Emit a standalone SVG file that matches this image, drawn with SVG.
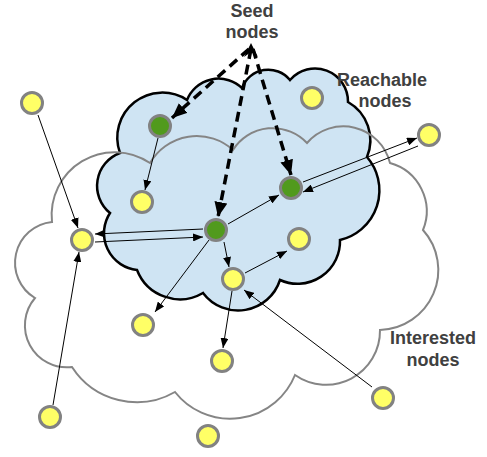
<svg xmlns="http://www.w3.org/2000/svg" width="487" height="457" viewBox="0 0 487 457">
<style>
.y{fill:#ffff66;stroke:#828282;stroke-width:3}
.g{fill:#519a1d;stroke:#828282;stroke-width:3}
.t{stroke:#000;stroke-width:1;fill:none}
.d{stroke:#000;stroke-width:3.5;fill:none;stroke-dasharray:10 6}
.lbl{font-family:"Liberation Sans",Arial,sans-serif;font-weight:bold;font-size:18px;fill:#404040;text-anchor:middle}
</style>
<defs>
<marker id="a" markerUnits="userSpaceOnUse" markerWidth="10" markerHeight="8" viewBox="0 0 10 8" refX="10" refY="4" orient="auto"><path d="M0,0 L10,4 L0,8 Z" fill="#000"/></marker>
<marker id="b" markerUnits="userSpaceOnUse" markerWidth="15" markerHeight="13" viewBox="0 0 15 13" refX="15" refY="6.5" orient="auto"><path d="M0,0 L15,6.5 L0,13 Z" fill="#000"/></marker>
</defs>
<g id="reachable-cloud">
<path d="M120,153 A45,45 0 0 1 187,100 A34,34 0 0 1 242,88 A28,28 0 0 1 290,80 A33,33 0 0 1 348,102 A44,44 0 0 1 367,157 A51,51 0 0 1 340,240 A42.5,42.5 0 0 1 280,280 A44,44 0 0 1 203,293 A46,46 0 0 1 137,270 A37,37 0 0 1 110,213 A35,35 0 0 1 120,153 Z" fill="#cfe4f3" stroke="#000" stroke-width="2.5"/>
</g>
<g id="interested-cloud">
<path d="M52,222 A63,63 0 0 1 150,163 A54,54 0 0 1 233,150 A47,47 0 0 1 307,143 A48,48 0 0 1 390,163 A50,50 0 0 1 423,230 A60,60 0 0 1 380,330 A54,54 0 0 1 295,375 A70,70 0 0 1 175,392 A77,77 0 0 1 72,367 A42,42 0 0 1 35,298 A41,41 0 0 1 52,222 Z" fill="none" stroke="#858585" stroke-width="2"/>
</g>
<g id="connectors">
<line class="d" x1="249" y1="49" x2="172" y2="118" marker-end="url(#b)"/>
<line class="d" x1="251" y1="49" x2="218" y2="217" marker-end="url(#b)"/>
<line class="d" x1="253" y1="49" x2="291" y2="175" marker-end="url(#b)"/>
<path d="M244,57 L251,43 L258,57 L251,52 Z" fill="#000"/>
<line class="t" x1="38" y1="115" x2="78" y2="228" marker-end="url(#a)"/>
<line class="t" x1="53" y1="405" x2="79" y2="252" marker-end="url(#a)"/>
<line class="t" x1="158" y1="138" x2="145" y2="190" marker-end="url(#a)"/>
<line class="t" x1="203" y1="229" x2="95" y2="234" marker-end="url(#a)"/>
<line class="t" x1="95" y1="242" x2="203" y2="237" marker-end="url(#a)"/>
<line class="t" x1="228" y1="224" x2="279" y2="195" marker-end="url(#a)"/>
<line class="t" x1="303" y1="182" x2="417" y2="138" marker-end="url(#a)"/>
<line class="t" x1="418" y1="146" x2="303" y2="192" marker-end="url(#a)"/>
<line class="t" x1="224" y1="242" x2="229" y2="267" marker-end="url(#a)"/>
<line class="t" x1="245" y1="273" x2="287" y2="251" marker-end="url(#a)"/>
<line class="t" x1="372" y1="387" x2="244" y2="290" marker-end="url(#a)"/>
<line class="t" x1="232" y1="291" x2="223" y2="348" marker-end="url(#a)"/>
<line class="t" x1="209" y1="240" x2="155" y2="312" marker-end="url(#a)"/>
</g>
<g id="n1"><circle class="y" cx="32" cy="103" r="10.5"/></g>
<g id="seed1"><circle class="g" cx="160" cy="126" r="10.5"/></g>
<g id="n2"><circle class="y" cx="312" cy="98" r="10.5"/></g>
<g id="n3"><circle class="y" cx="429" cy="135" r="10.5"/></g>
<g id="n4"><circle class="y" cx="142" cy="202" r="10.5"/></g>
<g id="seed2"><circle class="g" cx="291" cy="188" r="10.5"/></g>
<g id="n5"><circle class="y" cx="82" cy="240" r="10.5"/></g>
<g id="seed3"><circle class="g" cx="216" cy="230" r="10.5"/></g>
<g id="n6"><circle class="y" cx="299" cy="239" r="10.5"/></g>
<g id="n7"><circle class="y" cx="233" cy="279" r="10.5"/></g>
<g id="n8"><circle class="y" cx="143" cy="325" r="10.5"/></g>
<g id="n9"><circle class="y" cx="222" cy="361" r="10.5"/></g>
<g id="n10"><circle class="y" cx="383" cy="398" r="10.5"/></g>
<g id="n11"><circle class="y" cx="50" cy="417" r="10.5"/></g>
<g id="n12"><circle class="y" cx="208" cy="436" r="10.5"/></g>
<g id="label-seed"><text class="lbl" x="252" y="17">Seed</text><text class="lbl" x="252" y="38">nodes</text></g>
<g id="label-reachable"><text class="lbl" x="382" y="86">Reachable</text><text class="lbl" x="385" y="107">nodes</text></g>
<g id="label-interested"><text class="lbl" x="433" y="344">Interested</text><text class="lbl" x="433" y="366">nodes</text></g>
</svg>
